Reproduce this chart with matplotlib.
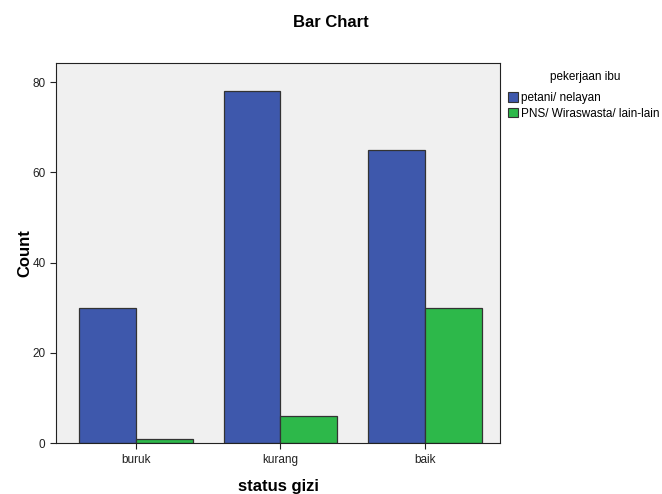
import numpy as np
import matplotlib.pyplot as plt
from matplotlib.patches import Patch

categories = ["buruk", "kurang", "baik"]
series_names = ["petani/ nelayan", "PNS/ Wiraswasta/ lain-lain"]
petani = [30, 78, 65]
pns = [1, 6, 30]

colors = ["#3E58AC", "#2DB84A"]
edge = "#333333"

plt.rcParams["font.family"] = ["Liberation Sans", "DejaVu Sans"]

fig = plt.figure(figsize=(6.62, 4.94), dpi=100)
ax = fig.add_axes([0.0846, 0.103, 0.6707, 0.769])
ax.set_facecolor("#F0F0F0")

x = np.arange(len(categories))
w = 0.394
ax.bar(x - w / 2, petani, w, color=colors[0], edgecolor=edge, linewidth=0.9)
ax.bar(x + w / 2, pns, w, color=colors[1], edgecolor=edge, linewidth=0.9)

ax.set_xlim(-0.554, 2.52)
ax.set_ylim(0, 84.2)
ax.set_yticks([0, 20, 40, 60, 80])
ax.set_xticks(x)
ax.set_xticklabels(categories)
ax.tick_params(labelsize=8.5, length=4, width=0.8, color="#222222", labelcolor="#222222")

for s in ax.spines.values():
    s.set_linewidth(0.8)
    s.set_color("#222222")

ax.set_ylabel("Count", fontsize=12, fontweight="bold", labelpad=0)
ax.set_xlabel("status gizi", fontsize=12, fontweight="bold", labelpad=10)
fig.suptitle("Bar Chart", x=0.5, y=0.97, fontsize=12, fontweight="bold")

# legend title drawn separately so the gap matches
fig.text(0.884, 1 - 77 / 494, "pekerjaan ibu", ha="center", va="center", fontsize=8.5)
handles = [Patch(facecolor=c, edgecolor=edge, linewidth=0.8) for c in colors]
fig.legend(handles, series_names,
           loc="upper left", bbox_to_anchor=(0.767, 1 - 92 / 494),
           frameon=False, fontsize=8.5,
           handlelength=0.9, handleheight=0.9, handletextpad=0.2,
           labelspacing=0.3, borderaxespad=0, borderpad=0)

fig.savefig("out.png", dpi=100)
